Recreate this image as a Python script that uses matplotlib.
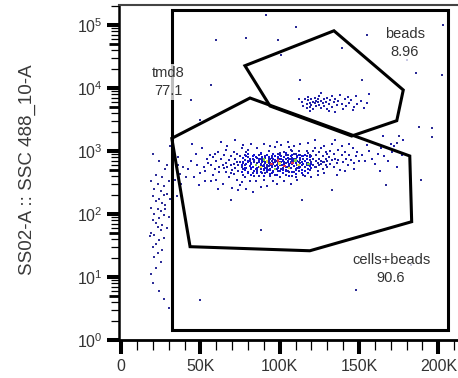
import matplotlib.pyplot as plt
import numpy as np
from matplotlib.ticker import FixedLocator, FuncFormatter, LogLocator, NullFormatter, MultipleLocator

plt.rcParams['font.family'] = ['Liberation Sans', 'DejaVu Sans']
plt.rcParams['mathtext.fontset'] = 'custom'
plt.rcParams['mathtext.rm'] = 'Liberation Sans'

# FSC-ish x axis in thousands, SSC y axis raw values (log)
cells_x = [42, 44, 46, 47, 48, 50, 51, 52, 53, 54, 55, 49, 45, 53, 56,
           57, 58, 58, 59, 60, 60, 61, 62, 62, 63, 64, 64, 65, 65, 66, 66, 67, 67, 68, 68, 69, 69, 70, 70, 61, 63, 66, 59, 57, 69,
           71, 71, 72, 72, 73, 73, 74, 74, 75, 75, 75, 76, 76, 77, 77, 77, 78, 78, 78, 79, 79, 80, 80, 80, 81, 81, 81, 82, 82, 82,
           83, 83, 83, 84, 84, 84, 85, 85, 72, 74, 76, 79, 80, 83, 85, 73, 78, 84, 71, 77,
           86, 86, 86, 87, 87, 87, 88, 88, 88, 89, 89, 89, 90, 90, 90, 90, 91, 91, 91, 92, 92, 92, 93, 93, 93, 94, 94, 94, 95, 95,
           95, 96, 96, 96, 97, 97, 97, 98, 98, 98, 99, 99, 99, 100, 100, 100, 86, 88, 90, 92, 94, 96, 98, 100, 87, 89, 91, 93, 95, 97,
           99, 91, 93, 95, 97, 99, 88, 90, 92, 94,
           101, 101, 101, 102, 102, 102, 103, 103, 103, 104, 104, 104, 105, 105, 105, 106, 106, 106, 107, 107,
           107, 108, 108, 108, 109, 109, 109, 110, 110, 110, 111, 111, 111, 112, 112, 112, 113, 113, 113, 114,
           114, 114, 115, 115, 101, 103, 105, 107, 109, 111, 113, 115, 102, 104, 106, 108, 110, 112, 114, 100,
           103, 105, 107, 109, 111, 113, 106, 110, 104, 108,
           116, 116, 117, 117, 118, 118, 119, 119, 120, 120, 121, 121, 122, 122, 123, 123, 124, 124, 125, 125,
           126, 126, 127, 127, 128, 128, 129, 129, 130, 130, 116, 118, 120, 122, 124, 126, 128, 130, 117, 119,
           121, 123, 125, 127, 129,
           131, 132, 132, 133, 134, 134, 135, 136, 137, 137, 138, 139, 140, 141, 142, 143, 144, 145, 146, 147,
           148, 149, 150, 133, 136, 139, 141, 144, 147, 135, 152, 154, 156, 158, 160, 162, 164, 166, 168, 171,
           174, 177, 155, 163, 170, 150, 158, 165, 172, 178]
cells_y = [520, 700, 380, 900, 610, 450, 1100, 560, 330, 760, 640, 290, 1300, 480, 850,
           600, 420, 800, 520, 690, 350, 980, 560, 460, 740, 610, 300, 530, 880, 470, 650, 1200, 560, 390, 720, 600, 820, 500, 260, 250, 1400, 1050, 900, 330, 440,
           620, 430, 750, 540, 350, 900, 600, 480, 680, 820, 290, 560, 1100, 640, 420, 520, 720, 600, 380, 950, 540, 660, 470, 800, 580, 330, 700, 510, 620, 1300,
           450, 760, 560, 680, 400, 880, 600, 520, 1500, 240, 320, 250, 1050, 220, 330, 660, 850, 700, 980, 1250,
           640, 480, 780, 560, 700, 400, 620, 520, 900, 680, 450, 580, 760, 600, 500, 350, 640, 820, 540, 700,
           460, 610, 580, 1000, 760, 520, 650, 400, 700, 560, 840, 620, 480, 740, 580, 660, 1150, 520, 700, 300,
           640, 560, 900, 600, 480, 760, 1100, 270, 1300, 280, 1200, 330, 1400, 380, 850, 760, 440, 500, 450, 420,
           780, 680, 640, 610, 720, 480, 740, 700, 560, 760,
           660, 520, 820, 600, 720, 440, 580, 680, 950, 640, 500, 760, 700, 560, 860, 620, 460, 740, 680, 540,
           1050, 620, 780, 400, 700, 580, 900, 640, 520, 760, 700, 600, 820, 660, 480, 1000, 720, 560, 640, 680,
           840, 500, 620, 760, 1250, 330, 1400, 300, 1200, 350, 1300, 420, 540, 860, 560, 680, 900, 580, 600, 920,
           800, 480, 760, 460, 540, 880, 1150, 380, 420, 1000,
           700, 560, 820, 640, 600, 920, 720, 500, 680, 840, 600, 760, 1100, 560, 700, 880, 640, 480, 760, 980,
           620, 700, 840, 520, 680, 1200, 760, 600, 900, 560, 400, 1350, 380, 1500, 420, 1100, 450, 700, 1000, 860,
           1000, 560, 600, 660, 960,
           800, 620, 1000, 720, 560, 900, 760, 640, 1050, 720, 500, 860, 680, 960, 760, 600, 880, 720, 1100, 640,
           820, 960, 700, 1300, 420, 1200, 480, 1300, 520, 1500, 860, 700, 1000, 760, 620, 900, 1100, 820, 700, 960,
           560, 880, 1250, 480, 1300, 1600, 1400, 1700, 1200, 1500]

# dense middle of the cell cloud
core_x = [76, 77, 78, 79, 80, 81, 82, 83, 84, 85, 86, 87, 88, 89, 90, 91, 92, 93, 94, 95,
          96, 97, 98, 99, 100, 101, 102, 103, 104, 105, 106, 107, 108, 109, 110, 111, 112, 113, 114, 115,
          116, 117, 118, 119, 120,
          76, 78, 80, 82, 84, 86, 88, 90, 92, 94, 96, 98, 100, 102, 104, 106, 108, 110, 112, 114,
          116, 118, 120,
          77, 79, 81, 83, 85, 87, 89, 91, 93, 95, 97, 99, 101, 103, 105, 107, 109, 111, 113, 115,
          117, 119,
          80, 84, 88, 92, 96, 100, 104, 108, 112, 116, 82, 86, 90, 94, 98, 102, 106, 110, 114, 118]
core_y = [600, 660, 540, 620, 700, 580, 640, 560, 720, 610, 540, 660, 600, 700, 580, 650, 520, 690, 610, 560,
          640, 720, 600, 540, 660, 590, 700, 620, 560, 680, 600, 650, 720, 580, 640, 690, 600, 560, 660, 620,
          700, 600, 650, 580, 620,
          470, 505, 455, 530, 485, 510, 460, 525, 490, 500, 465, 515, 480, 505, 475, 530, 460, 495, 535, 500,
          485, 525, 545,
          780, 820, 750, 840, 790, 755, 815, 770, 805, 765, 830, 790, 750, 800, 775, 835, 760, 810, 785, 820,
          750, 805,
          900, 860, 930, 850, 890, 870, 920, 860, 880, 850, 420, 445, 400, 435, 415, 450, 405, 430, 455, 440]

# pseudocolour level inside the core (0 green, 1 yellow, 2 red)
hot_x = [95, 103, 108, 99, 88, 100, 112, 92, 106, 85, 97, 110, 118, 90]
hot_y = [620, 580, 650, 700, 560, 640, 600, 680, 540, 600, 520, 700, 620, 740]
hot_level = [2, 2, 2, 2, 1, 1, 1, 1, 1, 0, 0, 0, 0, 0]

beads_x = [114, 115, 116, 117, 117, 118, 118, 119, 119, 120, 120, 121, 121, 122, 122, 123, 123, 124, 124, 125,
           125, 126, 126, 127, 128, 128, 129, 130, 130, 131, 132, 133, 133, 134, 135, 136, 137, 138, 139, 140,
           141, 142, 143, 144, 145, 147, 148, 149, 151, 153, 155, 156, 112, 126, 131, 119, 135, 146]
beads_y = [6000, 5200, 6800, 5600, 4800, 6400, 7200, 5000, 5800, 6600, 5400, 6100, 4600, 7000, 5700, 6300, 5100, 5900, 6800, 5400,
           7400, 6200, 4900, 5800, 6600, 5200, 6000, 7000, 4700, 5600, 6400, 5000, 7600, 5900, 6800, 5300, 6200, 7800, 5600, 4600,
           6600, 5200, 7200, 5800, 6400, 5000, 7600, 5500, 6200, 4800, 5700, 8000, 6600, 8200, 4300, 4300, 4200, 4400]

stripe_x = [20, 24, 28, 22, 26, 19, 23, 27, 21, 25, 29, 20, 24, 22, 26, 28, 19, 23, 25, 21,
            27, 24, 20, 22, 26, 23, 25, 19, 21, 27, 24, 22, 20, 26, 23, 21, 25, 22, 20, 24,
            19, 27, 30, 29, 30, 31, 30, 29, 31, 18, 28, 27, 33, 35, 37, 34, 36, 38, 33, 36,
            39, 41, 35, 32]
stripe_y = [900, 700, 520, 420, 380, 330, 300, 280, 250, 230, 210, 190, 175, 160, 150, 140, 125, 118, 110, 100,
            95, 88, 80, 72, 68, 62, 55, 50, 46, 42, 38, 34, 30, 27, 24, 21, 17, 14, 8, 6,
            11, 4.5, 3.2, 600, 330, 170, 90, 60, 1200, 45, 120, 200, 700, 520, 430, 350, 610, 300, 250, 800,
            560, 380, 190, 460]

sparse_x = [60, 79, 91.5, 110, 139, 113, 180, 202, 196, 174, 189, 164, 183, 114, 50, 69, 88, 133, 44, 57,
            101, 152, 82, 167, 50, 148, 203, 155, 99, 186, 188, 196, 175]
sparse_y = [57700, 62000, 144000, 93000, 43000, 13400, 27800, 16000, 2330, 1340, 345, 56, 15.5, 167, 3100, 167, 56, 240, 6400, 11200,
            33600, 13400, 16000, 290, 4.3, 6.2, 100000, 69000, 57000, 17000, 2400, 1660, 1700]

# gates
tmd8_x = [32, 206.3, 206.3, 32]
tmd8_y = [1.44, 1.44, 173000, 173000]
cb_x = [32, 81.3, 182, 183.2, 119, 43.5]
cb_y = [1590, 6940, 834, 75.5, 26.1, 30.3]
bg_x = [78.1, 134.2, 177.9, 173.8, 145.4, 93.9]
bg_y = [22600, 81000, 9300, 3030, 1730, 5180]

gate_names = ['tmd8', 'beads', 'cells+beads']
gate_pcts = ['77.1', '8.96', '90.6']
label_x = [29.6, 179, 170.2]
label_y = [12450, 51800, 13.2]

fig = plt.figure(figsize=(4.58, 3.78), dpi=100)
ax = fig.add_axes([0.2605, 0.1005, 0.7395, 0.8862])

ax.scatter(sparse_x, sparse_y, s=1.8, marker='s', c='#2a2a95', linewidths=0, zorder=2)
ax.scatter(stripe_x, stripe_y, s=2.4, marker='s', c='#2e2e98', linewidths=0, zorder=2)
ax.scatter(beads_x, beads_y, s=3.0, marker='s', c='#2323a8', linewidths=0, zorder=2)
ax.scatter(cells_x, cells_y, s=3.4, marker='s', c='#2020a8', linewidths=0, zorder=2)
ax.scatter(core_x, core_y, s=4.2, marker='s', c='#1212d8', linewidths=0, zorder=2)
hot_cols = ['#7fd23c', '#e8e23a', '#e0304a']
ax.scatter(hot_x, hot_y, s=3.4, marker='s', c=[hot_cols[l] for l in hot_level], linewidths=0, zorder=2)

for gx, gy in [(tmd8_x, tmd8_y), (cb_x, cb_y), (bg_x, bg_y)]:
    ax.fill(gx, gy, fill=False, ec='black', lw=2.2, joinstyle='miter', zorder=3)

for name, pct, lx, ly in zip(gate_names, gate_pcts, label_x, label_y):
    ax.text(lx, ly, name + '\n' + pct, ha='center', va='center', multialignment='center',
            fontsize=10.5, color='#333333', linespacing=1.35, zorder=4,
            bbox=dict(fc='white', ec='none', alpha=0.75, pad=1.5))

ax.set_yscale('log')
ax.set_ylim(1, 207600)
ax.set_xlim(-1.1, 212.4)

ax.yaxis.set_major_locator(LogLocator(base=10, numticks=10))
ax.yaxis.set_major_formatter(FuncFormatter(lambda v, p: r'$\mathregular{10^{%d}}$' % round(np.log10(v))))
ax.yaxis.set_minor_locator(LogLocator(base=10, subs=np.arange(2, 10), numticks=20))
ax.yaxis.set_minor_formatter(NullFormatter())

ax.xaxis.set_major_locator(FixedLocator([0, 50, 100, 150, 200]))
ax.xaxis.set_major_formatter(FuncFormatter(lambda v, p: '0' if v == 0 else '%dK' % v))
ax.xaxis.set_minor_locator(MultipleLocator(10))

ax.tick_params(axis='y', which='major', direction='out', length=8.6, width=2.9, pad=3.5,
               labelsize=11.5, labelcolor='#333333')
ax.tick_params(axis='y', which='minor', direction='out', length=6, width=0.9)
ax.tick_params(axis='x', which='major', direction='out', length=10, width=2.9, pad=4,
               labelsize=11.5, labelcolor='#333333')
ax.tick_params(axis='x', which='minor', direction='out', length=7, width=0.9)

ax.spines['right'].set_visible(False)
ax.spines['top'].set_color('#444444')
ax.spines['top'].set_linewidth(1.5)
ax.spines['left'].set_linewidth(1.8)
ax.spines['bottom'].set_linewidth(2.0)

ax.set_ylabel('SS02-A :: SSC 488_10-A', fontsize=13.5, color='#3a3a3a')
ax.yaxis.set_label_coords(-0.245, 0.507)

# bolder minor tick at 5 x 10^n
fig.canvas.draw()
for tick, loc in zip(ax.yaxis.get_minor_ticks(), ax.yaxis.get_minorticklocs()):
    m = loc / 10 ** np.floor(np.log10(loc) + 1e-9)
    if abs(m - 5) < 1e-6:
        tick.tick1line.set_markeredgewidth(2.0)
        tick.tick1line.set_markersize(7.5)

fig.savefig('out.png', dpi=100)
